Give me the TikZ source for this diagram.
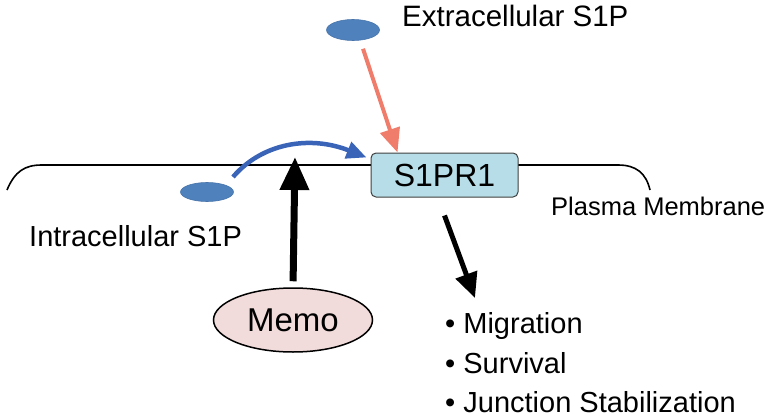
\documentclass[tikz,border=0pt]{standalone}
\usepackage{fontspec}
\setmainfont{Liberation Sans}
\usetikzlibrary{arrows.meta,calc,shapes.geometric}
\definecolor{blueell}{RGB}{79,129,189}
\definecolor{bluearr}{RGB}{58,100,184}
\definecolor{redarr}{RGB}{240,125,108}
\definecolor{boxfill}{RGB}{183,222,232}
\definecolor{memofill}{RGB}{242,220,219}
\tikzset{
  lbl/.style={anchor=base west, inner sep=0pt},
  molecule/.style={ellipse, fill=blueell, draw=blueell!90!black, line width=0.6pt, minimum width=53pt, minimum height=21pt, inner sep=0pt},
  receptor/.style={rectangle, rounded corners=5pt, fill=boxfill, draw=black!75, line width=1pt, minimum width=147pt, minimum height=44pt, inner sep=0pt, font=\fontsize{32}{36}\selectfont},
  memobox/.style={ellipse, fill=memofill, draw=black, line width=1.5pt, minimum width=159pt, minimum height=64pt, inner sep=0pt, font=\fontsize{33}{38}\selectfont},
  membrane/.style={line width=1.6pt},
}
\begin{document}
\begin{tikzpicture}[x=1pt,y=-1pt]
\useasboundingbox (0,0) rectangle (768,420);
% membrane
\draw[membrane] (7,190) .. controls (15,171) and (25,165) .. (42,165) -- (618,165) .. controls (636,165) and (646,173) .. (650,190);
% nodes
\node[receptor] (s1pr1) at (444.5,175) {S1PR1};
\node[molecule] (extra) at (353,30) {};
\node[molecule, minimum height=19pt] (intra) at (207,192) {};
\node[memobox] (memo) at (293,320) {Memo};
% labels
\node[lbl, font=\fontsize{29.5}{33}\selectfont] (extralbl) at (402,27) {Extracellular S1P};
\node[lbl, font=\fontsize{29}{33}\selectfont] (intralbl) at (29,246) {Intracellular S1P};
\node[lbl, font=\fontsize{25.5}{29}\selectfont] (pmlbl) at (551,215) {Plasma Membrane};
\node[lbl, font=\fontsize{29}{33}\selectfont] (mig) at (445,333) {• Migration};
\node[lbl, font=\fontsize{29}{33}\selectfont] (surv) at (445,373) {• Survival};
\node[lbl, font=\fontsize{29}{33}\selectfont] (junc) at (445,412) {• Junction Stabilization};
% connectors
\coordinate (redstart) at ($(extra.south)+(10,8)$);
\coordinate (redend) at ([xshift=27pt]s1pr1.north west);
\draw[redarr, line width=4pt, -{Triangle[length=24pt,width=20pt]}] (redstart) -- (redend);
\coordinate (bluestart) at ($(intra.center)+(26,-15)$);
\coordinate (blueend) at ([xshift=-4pt,yshift=-5pt]s1pr1.north west);
\draw[bluearr, line width=4.5pt, -{Triangle[length=20pt,width=17pt]}] (bluestart) .. controls (262,143) and (310,135) .. (blueend);
\coordinate (memotip) at (295,157);
\draw[black, line width=7pt, shorten <=6pt, -{Triangle[length=33pt,width=28pt]}] (memo.north) -- (memotip);
\coordinate (outstart) at ($(s1pr1.south)+(0,18)$);
\coordinate (outend) at (475,298);
\draw[black, line width=5pt, -{Triangle[length=25pt,width=22pt]}] (outstart) -- (outend);
\end{tikzpicture}
\end{document}
